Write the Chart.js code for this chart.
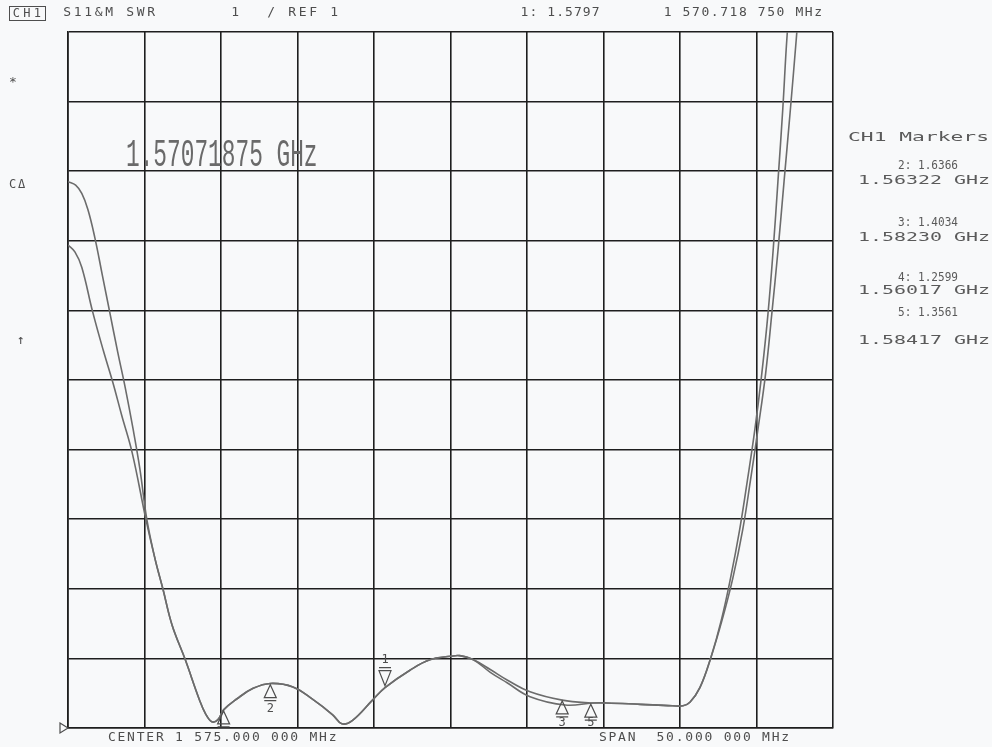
<!DOCTYPE html>
<html>
<head>
<meta charset="utf-8">
<script src="https://cdn.jsdelivr.net/npm/chart.js@4/dist/chart.umd.min.js"></script>
<style>
  html, body { margin: 0; padding: 0; background: #f8f9fa; }
  #vna { display: block; }
</style>
</head>
<body>
<canvas id="vna" width="992" height="747"></canvas>
<script>
// trace 1 (S11) and trace 2 (memory): frequency in MHz, SWR
const freqA = [1550.0, 1550.5, 1550.9, 1551.3, 1551.75, 1552.25, 1552.75, 1553.25, 1553.75, 1554.25, 1554.7, 1555.15,
  1555.7, 1556.2, 1556.8, 1557.65, 1558.6, 1559.0, 1559.4, 1559.8, 1560.17, 1561.05, 1562.1, 1563.22, 1564.7, 1566.0,
  1567.3, 1567.9, 1568.6, 1569.9, 1570.72, 1572.35, 1573.65, 1575.0, 1575.6, 1576.5, 1577.6, 1578.7, 1580.2, 1582.3,
  1584.17, 1585.2, 1587.4, 1589.5, 1590.2, 1590.65, 1591.3, 1592.0, 1592.7, 1593.3, 1593.9, 1594.4, 1594.9, 1595.35,
  1595.75, 1596.1, 1596.4, 1596.72, 1597.0, 1597.3];
const swrA = [8.85, 8.80, 8.68, 8.45, 8.05, 7.50, 6.95, 6.40, 5.88, 5.30, 4.72, 4.00,
  3.42, 3.00, 2.48, 1.99, 1.40, 1.20, 1.09, 1.12, 1.26, 1.42, 1.57, 1.64, 1.59, 1.41,
  1.19, 1.06, 1.11, 1.40, 1.58, 1.83, 1.98, 2.03, 2.04, 1.98, 1.84, 1.69, 1.52, 1.40,
  1.36, 1.36, 1.34, 1.32, 1.32, 1.37, 1.58, 2.00, 2.55, 3.15, 3.85, 4.55, 5.30, 6.10,
  6.95, 7.90, 8.85, 9.90, 10.95, 11.7];

const freqB = [1550.0, 1550.45, 1550.9, 1551.6, 1552.3, 1552.95, 1553.5, 1554.2, 1555.1,
  1555.7, 1556.2, 1556.8, 1557.65, 1558.6, 1559.0, 1559.4, 1559.8, 1560.17, 1561.05, 1562.1, 1563.22, 1564.7, 1566.0,
  1567.3, 1567.9, 1568.6, 1569.9, 1570.72, 1572.35, 1573.65, 1575.0, 1575.6, 1576.5, 1577.6, 1578.7, 1580.2, 1582.5,
  1584.3, 1585.2, 1587.4, 1589.5, 1590.2, 1590.65, 1591.3, 1592.0, 1592.75, 1593.45, 1594.1, 1594.6, 1595.1, 1595.6,
  1596.0, 1596.4, 1596.8, 1597.2, 1597.6, 1597.85];
const swrB = [7.94, 7.84, 7.62, 6.99, 6.43, 5.95, 5.50, 4.95, 3.99,
  3.42, 3.00, 2.48, 1.99, 1.40, 1.20, 1.09, 1.12, 1.26, 1.42, 1.57, 1.64, 1.59, 1.41,
  1.19, 1.06, 1.11, 1.40, 1.58, 1.83, 1.98, 2.03, 2.04, 1.98, 1.80, 1.65, 1.45, 1.33,
  1.36, 1.36, 1.34, 1.32, 1.32, 1.37, 1.58, 2.00, 2.55, 3.15, 3.85, 4.55, 5.30, 6.10,
  6.95, 7.85, 8.85, 9.85, 10.9, 11.6];

// markers
const markerNum = [1, 2, 3, 4, 5];
const markerFreq = [1570.71875, 1563.22, 1582.30, 1560.17, 1584.17];
const markerSwr = [1.5797, 1.6366, 1.4034, 1.2599, 1.3561];

// axis: center 1575 MHz, span 50 MHz, 1 / div, ref 1
const freqMin = 1550, freqMax = 1600, freqStep = 5;
const swrMin = 1, swrMax = 11, swrStep = 1;

const ink = '#4e4e4e';
const mono = '"DejaVu Sans Mono", monospace';

function toPoints(xs, ys) {
  return xs.map((x, i) => ({x: x, y: ys[i]}));
}

// draw text char by char with a fixed pitch (pixel font look)
function pitchText(ctx, str, x, y, pitch, size) {
  ctx.font = size + 'px ' + mono;
  ctx.textAlign = 'center';
  ctx.textBaseline = 'middle';
  for (let i = 0; i < str.length; i++) {
    ctx.fillText(str[i], x + i * pitch + pitch / 2, y);
  }
}

// stretch a string so it fills a given width
function fitText(ctx, str, x, y, width, size) {
  ctx.save();
  ctx.font = size + 'px ' + mono;
  ctx.textAlign = 'left';
  ctx.textBaseline = 'middle';
  const w = ctx.measureText(str).width;
  ctx.translate(x, y);
  ctx.scale(width / w, 1);
  ctx.fillText(str, 0, 0);
  ctx.restore();
}

const annotate = {
  id: 'annotate',
  afterDraw(chart) {
    const ctx = chart.ctx;
    const xs = chart.scales.x, ys = chart.scales.y;
    const area = chart.chartArea;
    ctx.save();
    ctx.fillStyle = ink;
    ctx.strokeStyle = ink;

    // header
    ctx.lineWidth = 1;
    ctx.strokeRect(9.5, 6.5, 36, 14);
    pitchText(ctx, 'CH1', 11, 14, 10.5, 12);
    pitchText(ctx, 'S11&M SWR', 62, 13, 10.5, 13);
    pitchText(ctx, '1', 230, 13, 10.5, 13);
    pitchText(ctx, '/ REF 1', 266, 13, 10.5, 13);
    pitchText(ctx, '1: 1.5797', 520, 13, 8.9, 13);
    pitchText(ctx, '1 570.718 750 MHz', 663, 13, 9.4, 13);

    // left side softkey symbols
    pitchText(ctx, '*', 8, 83, 10, 13);
    pitchText(ctx, 'CΔ', 8, 185, 9, 12);
    pitchText(ctx, '↑', 16, 341, 10, 13);

    // footer
    pitchText(ctx, 'CENTER 1 575.000 000 MHz', 107, 738, 9.6, 13);
    pitchText(ctx, 'SPAN  50.000 000 MHz', 598, 738, 9.6, 13);

    // marker table
    ctx.fillStyle = '#5a5a5a';
    fitText(ctx, 'CH1 Markers', 848, 138, 141, 12);
    const rows = [
      ['2: 1.6366', 166], ['1.56322 GHz', 181],
      ['3: 1.4034', 223], ['1.58230 GHz', 238],
      ['4: 1.2599', 278], ['1.56017 GHz', 291],
      ['5: 1.3561', 313], ['1.58417 GHz', 341]
    ];
    rows.forEach(r => {
      if (r[0].length === 9) fitText(ctx, r[0], 898, r[1], 60, 12);
      else fitText(ctx, r[0], 858, r[1], 132, 12);
    });
    ctx.fillStyle = ink;

    // active marker frequency, big vector text
    ctx.save();
    ctx.translate(126, 156);
    ctx.scale(0.6, 1);
    ctx.font = '38px "Liberation Mono", monospace';
    ctx.textAlign = 'left';
    ctx.textBaseline = 'middle';
    ctx.fillStyle = '#6a6a6a';
    ctx.fillText('1.57071875 GHz', 0, 0);
    ctx.restore();

    // reference position triangle
    const yRef = ys.getPixelForValue(swrMin);
    ctx.lineWidth = 1.2;
    ctx.beginPath();
    ctx.moveTo(60, yRef - 5);
    ctx.lineTo(68, yRef);
    ctx.lineTo(60, yRef + 5);
    ctx.closePath();
    ctx.stroke();

    // marker glyphs
    markerNum.forEach((n, i) => {
      const px = xs.getPixelForValue(markerFreq[i]);
      const py = ys.getPixelForValue(markerSwr[i]);
      ctx.beginPath();
      if (n === 1) {
        ctx.moveTo(px, py - 2);
        ctx.lineTo(px - 6, py - 17);
        ctx.lineTo(px + 6, py - 17);
        ctx.closePath();
        ctx.moveTo(px - 6, py - 20);
        ctx.lineTo(px + 6, py - 20);
        ctx.stroke();
        pitchText(ctx, '1', px - 5, py - 28, 10, 12);
      } else {
        ctx.moveTo(px, py + 1);
        ctx.lineTo(px - 6, py + 14);
        ctx.lineTo(px + 6, py + 14);
        ctx.closePath();
        ctx.moveTo(px - 6, py + 17);
        ctx.lineTo(px + 6, py + 17);
        ctx.stroke();
        if (py + 22 < area.bottom) pitchText(ctx, String(n), px - 5, Math.min(py + 25, area.bottom - 5), 10, 12);
      }
    });
    ctx.restore();
  }
};

const gridStyle = {color: '#1e1e1e', lineWidth: 1.6, drawTicks: false};

new Chart(document.getElementById('vna'), {
  type: 'line',
  data: {
    datasets: [{
      data: toPoints(freqA, swrA),
      borderColor: '#6c6c6c',
      borderWidth: 1.6,
      pointRadius: 0,
      tension: 0.4
    }, {
      data: toPoints(freqB, swrB),
      borderColor: '#6c6c6c',
      borderWidth: 1.6,
      pointRadius: 0,
      tension: 0.4
    }]
  },
  options: {
    responsive: false,
    animation: false,
    devicePixelRatio: 1,
    layout: {padding: {left: 68, top: 32, right: 159, bottom: 19}},
    plugins: {legend: {display: false}, tooltip: {enabled: false}},
    scales: {
      x: {
        type: 'linear', min: freqMin, max: freqMax,
        ticks: {display: false, stepSize: freqStep},
        grid: gridStyle,
        border: {color: '#1e1e1e', width: 1.6}
      },
      y: {
        type: 'linear', min: swrMin, max: swrMax,
        ticks: {display: false, stepSize: swrStep},
        grid: gridStyle,
        border: {color: '#1e1e1e', width: 1.6}
      }
    }
  },
  plugins: [annotate]
});
</script>
</body>
</html>
